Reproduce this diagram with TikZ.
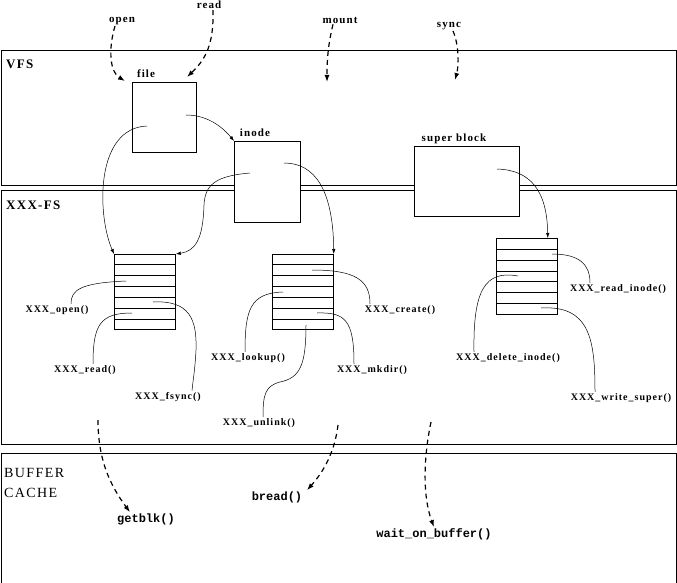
\documentclass[tikz,border=0pt]{standalone}
\usepackage{fontspec}
\setmonofont{Liberation Mono}
\newfontfamily\figfont[LetterSpace=10]{Liberation Serif}
\usetikzlibrary{arrows.meta,calc}

\tikzset{
  layer/.style={line width=0.8pt},
  objbox/.style={draw, fill=white, line width=0.8pt, anchor=north west, inner sep=0pt},
  optable/.style={draw, fill=white, line width=0.8pt, anchor=north west,
    inner sep=0pt, minimum width=61pt, minimum height=75pt},
  toplbl/.style={font=\figfont\bfseries\fontsize{11}{13}\selectfont, inner sep=1pt},
  fnlbl/.style={font=\figfont\bfseries\fontsize{10}{12}\selectfont, inner sep=1.5pt},
  laylbl/.style={font=\figfont\bfseries\fontsize{13}{15}\selectfont, anchor=west, inner sep=0pt},
  calllbl/.style={font=\ttfamily\bfseries\fontsize{12}{14}\selectfont, inner sep=1pt},
  ptr/.style={line width=0.5pt, -{Latex[length=5pt,width=3.5pt]}},
  fnline/.style={line width=0.5pt},
  callarrow/.style={line width=1.2pt, dash pattern=on 5pt off 4pt, -{Latex[length=7pt,width=5pt]}}
}

\begin{document}
\begin{tikzpicture}[x=1pt, y=-1pt]
    \useasboundingbox (0,0) rectangle (677,583);
    % layers
    \draw[layer] (1,50) rectangle (676,185);
    \draw[layer] (1,190) rectangle (676,444);
    \draw[layer] (1,583) -- (1,453) -- (676,453) -- (676,583);
    \node[laylbl] (vfs) at (6,64) {VFS};
    \node[laylbl] (xfs) at (6,205) {XXX-FS};
    \node[laylbl, font=\figfont\fontsize{14}{20}\selectfont, align=left] (bcache) at (4,483) {BUFFER\\CACHE};

    % VFS objects
    \node[objbox, minimum width=64pt, minimum height=70pt] (file) at (132,82) {};
    \node[objbox, minimum width=66pt, minimum height=81pt] (inode) at (234,141) {};
    \node[objbox, minimum width=105pt, minimum height=70pt] (super) at (414,146) {};
    \node[toplbl] (filelbl) at (146,74) {file};
    \node[toplbl] (inodelbl) at (255,133) {inode};
    \node[toplbl] (superlbl) at (454,139) {super block};

    % operation tables
    \node[optable] (tabA) at (114,254) {};
    \node[optable] (tabB) at (272,254) {};
    \node[optable, minimum height=76pt] (tabC) at (496,238) {};
    \foreach \t in {tabA,tabB,tabC}
        \foreach \i in {1,...,6}
            \draw[line width=0.8pt] ($(\t.north west)!\i/7!(\t.south west)$) -- ($(\t.north east)!\i/7!(\t.south east)$);

    % pointers
    \coordinate (fileptr) at (147,126);
    \coordinate (fileptrb) at (186,115);
    \coordinate (inodeptr) at (250,173);
    \coordinate (inodeptrb) at (284,163);
    \coordinate (superptr) at (497,169);
    \draw[ptr] (fileptr) .. controls (95,128) and (97,215) .. (tabA.north west);
    \draw[ptr] (fileptrb) .. controls (210,115) and (225,130) .. (inode.north west);
    \draw[ptr] (inodeptr) .. controls (215,176) and (205,185) .. (204,205) .. controls (203,240) and (195,251) .. (tabA.north east);
    \draw[ptr] (inodeptrb) .. controls (315,163) and (333,190) .. (tabB.north east);
    \draw[ptr] (superptr) .. controls (530,170) and (547,190) .. ([xshift=-10pt]tabC.north east);

    % file operations
    \node[fnlbl] (fopen) at (57,310) {XXX\_open()};
    \node[fnlbl] (fread) at (85,370) {XXX\_read()};
    \node[fnlbl] (ffsync) at (168,397) {XXX\_fsync()};
    \coordinate (openrow) at (126,281);
    \coordinate (readrow) at (132,313);
    \coordinate (fsyncrow) at (153,302);
    \draw[fnline] (openrow) .. controls (80,283) and (71,290) .. ([xshift=14pt]fopen.north);
    \draw[fnline] (readrow) .. controls (100,313) and (93,325) .. ([xshift=8pt]fread.north);
    \draw[fnline] (fsyncrow) .. controls (190,300) and (197,320) .. (196,350) .. controls (195,370) and (193,380) .. ([xshift=24pt]ffsync.north);

    % inode operations
    \node[fnlbl] (flookup) at (248,358) {XXX\_lookup()};
    \node[fnlbl] (fcreate) at (400,310) {XXX\_create()};
    \node[fnlbl] (fmkdir) at (372,370) {XXX\_mkdir()};
    \node[fnlbl] (funlink) at (259,423) {XXX\_unlink()};
    \coordinate (createrow) at (312,270);
    \coordinate (lookuprow) at (283,292);
    \coordinate (mkdirrow) at (317,313);
    \coordinate (unlinkrow) at (306,325);
    \draw[fnline] (createrow) .. controls (355,270) and (370,280) .. ([xshift=-30pt]fcreate.north);
    \draw[fnline] (lookuprow) .. controls (250,293) and (245,310) .. ([xshift=-3pt]flookup.north);
    \draw[fnline] (mkdirrow) .. controls (345,312) and (354,320) .. ([xshift=-18pt]fmkdir.north);
    \draw[fnline] (unlinkrow) .. controls (306,365) and (300,378) .. (280,382) .. controls (265,386) and (263,395) .. ([xshift=4pt]funlink.north);

    % super block operations
    \node[fnlbl] (freadinode) at (618,289) {XXX\_read\_inode()};
    \node[fnlbl] (fdelinode) at (508,358) {XXX\_delete\_inode()};
    \node[fnlbl] (fwritesuper) at (621,398) {XXX\_write\_super()};
    \coordinate (readinoderow) at (552,254);
    \coordinate (delinoderow) at (518,276);
    \coordinate (writesuperrow) at (541,308);
    \draw[fnline] (readinoderow) .. controls (580,254) and (590,265) .. ([xshift=-28pt]freadinode.north);
    \draw[fnline] (delinoderow) .. controls (485,270) and (473,290) .. ([xshift=-34pt]fdelinode.north);
    \draw[fnline] (writesuperrow) .. controls (590,305) and (595,340) .. ([xshift=-26pt]fwritesuper.north);

    % system calls
    \node[toplbl] (open) at (122,21) {open};
    \node[toplbl] (read) at (209,5) {read};
    \node[toplbl] (mount) at (340,20) {mount};
    \node[toplbl] (sync) at (449,26) {sync};
    \coordinate (openhit) at (125,81);
    \coordinate (readhit) at (187,77);
    \coordinate (mounthit) at (327,82);
    \coordinate (synchit) at (455,80);
    \draw[callarrow] ([xshift=-7pt]open.south) .. controls (108,50) and (110,72) .. (openhit);
    \draw[callarrow] ([xshift=4pt]read.south) .. controls (214,45) and (205,60) .. (readhit);
    \draw[callarrow] ([xshift=-7pt]mount.south) .. controls (328,45) and (327,60) .. (mounthit);
    \draw[callarrow] ([xshift=4pt]sync.south) .. controls (459,45) and (459,65) .. (synchit);

    % buffer cache calls
    \node[calllbl] (getblk) at (146,519) {getblk()};
    \node[calllbl] (bread) at (277,497) {bread()};
    \node[calllbl] (waitbuf) at (434,534) {wait\_on\_buffer()};
    \coordinate (getblksrc) at (98,420);
    \coordinate (breadsrc) at (338,425);
    \coordinate (waitsrc) at (431,422);
    \draw[callarrow] (getblksrc) .. controls (98,460) and (110,485) .. ([xshift=-16pt]getblk.north);
    \draw[callarrow] (breadsrc) .. controls (335,450) and (325,470) .. ([xshift=30pt]bread.north);
    \draw[callarrow] (waitsrc) .. controls (424,455) and (422,495) .. (waitbuf.north);
\end{tikzpicture}
\end{document}
